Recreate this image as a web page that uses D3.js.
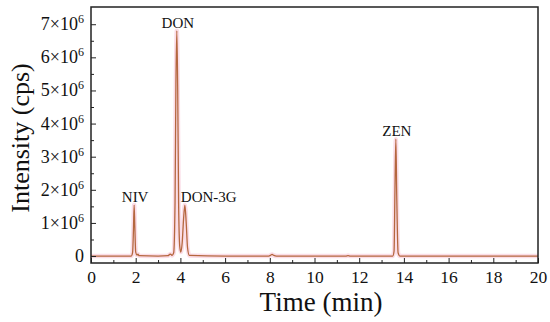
<!DOCTYPE html>
<html>
<head>
<meta charset="utf-8">
<script src="https://cdn.jsdelivr.net/npm/d3@7"></script>
<style>
  body { margin: 0; background: #fff; }
  text { font-family: "Liberation Serif", "DejaVu Serif", serif; fill: #111; }
</style>
</head>
<body>
<div id="chart"></div>
<script>
// chromatogram trace (time in min, intensity in cps)
var times = [0, 1.00, 1.80, 1.86, 1.90, 1.93, 1.96, 2.00, 2.06, 2.10, 2.15, 3.00, 3.45, 3.52, 3.56, 3.62,
  3.70, 3.76, 3.80, 3.84, 3.88, 3.92, 3.97, 4.02, 4.08, 4.14, 4.20, 4.26, 4.32, 4.40, 6.00, 7.95, 8.05,
  8.10, 8.18, 8.30, 11.40, 11.50, 11.60, 13.50, 13.56, 13.60, 13.64, 13.68, 13.74, 13.82, 17.00, 20];
var intensity = [0, 0, 0, 0.10e6, 0.80e6, 1.54e6, 0.90e6, 0.12e6, 0.03e6, 0.06e6, 0.01e6, 0, 0.01e6, 0.05e6, 0.06e6, 0.02e6,
  0.10e6, 1.60e6, 5.20e6, 6.80e6, 5.00e6, 1.60e6, 0.30e6, 0.12e6, 0.40e6, 1.10e6, 1.54e6, 1.00e6, 0.25e6, 0.02e6, 0, 0, 0.03e6,
  0.05e6, 0.02e6, 0, 0, 0.015e6, 0, 0, 0.15e6, 2.00e6, 3.53e6, 1.80e6, 0.10e6, 0, 0, 0];

var peakNames = ["NIV", "DON", "DON-3G", "ZEN"];
var peakTimes = [1.93, 3.84, 4.20, 13.64];
var peakHeights = [1.54e6, 6.80e6, 1.54e6, 3.53e6];

var xTicks = [0, 2, 4, 6, 8, 10, 12, 14, 16, 18, 20];
var yTicks = [0, 1, 2, 3, 4, 5, 6, 7];

var margin = { top: 7, right: 12, bottom: 59, left: 91 };
var width = 550 - margin.left - margin.right;
var height = 322 - margin.top - margin.bottom;

var data = times.map(function (t, i) { return { t: t, v: intensity[i] }; });

var svg = d3.select("#chart").append("svg")
  .attr("width", 550)
  .attr("height", 322);

var g = svg.append("g")
  .attr("transform", "translate(" + margin.left + "," + margin.top + ")");

var xScale = d3.scaleLinear().domain([0, 20]).range([0, width]);
var yScale = d3.scaleLinear().domain([-0.21e6, 7.52e6]).range([height, 0]);

var line = d3.line()
  .x(function (d) { return xScale(d.t); })
  .y(function (d) { return yScale(d.v); })
  .curve(d3.curveMonotoneX);

// soft pink halo then the trace
g.append("path")
  .datum(data)
  .attr("d", line)
  .attr("fill", "none")
  .attr("stroke", "#fbdde7")
  .attr("stroke-width", 4.5)
  .attr("stroke-linejoin", "round");

g.append("path")
  .datum(data)
  .attr("d", line)
  .attr("fill", "none")
  .attr("stroke", "#b5673f")
  .attr("stroke-width", 1.3)
  .attr("stroke-linejoin", "round");

// axes (ticks pointing inward)
var xAxis = d3.axisBottom(xScale).tickValues(xTicks).tickSize(-5).tickPadding(8);
var xMinor = d3.axisBottom(xScale).tickValues(d3.range(1, 20, 2)).tickSize(-3).tickFormat("");
var yAxis = d3.axisLeft(yScale).tickValues(yTicks.map(function (d) { return d * 1e6; }))
  .tickSize(-5).tickFormat("");
var yMinor = d3.axisLeft(yScale).tickValues(d3.range(0.5e6, 7.5e6, 1e6)).tickSize(-3).tickFormat("");

var gx = g.append("g").attr("class", "x axis")
  .attr("transform", "translate(0," + height + ")")
  .call(xAxis);
g.append("g").attr("transform", "translate(0," + height + ")").call(xMinor);
g.append("g").attr("class", "y axis").call(yAxis);
g.append("g").call(yMinor);

g.selectAll(".domain").remove();
g.selectAll(".tick line").attr("stroke", "#222").attr("stroke-width", 1);
gx.selectAll(".tick text")
  .attr("font-family", null)
  .style("font-size", "17.5px")
  .style("font-family", "Liberation Serif");

// y tick labels like 7×10^6
yTicks.forEach(function (d) {
  var t = g.append("text")
    .attr("x", -7)
    .attr("y", yScale(d * 1e6) + 6)
    .attr("text-anchor", "end")
    .style("font-size", "18px");
  if (d === 0) {
    t.text("0");
  } else {
    t.append("tspan").text(d + "\u00d710");
    t.append("tspan").attr("dy", -7).style("font-size", "12px").text("6");
  }
});

// frame
g.append("rect")
  .attr("width", width)
  .attr("height", height)
  .attr("fill", "none")
  .attr("stroke", "#222")
  .attr("stroke-width", 1.5);

// peak labels
peakNames.forEach(function (name, i) {
  var isStart = name === "DON-3G";
  g.append("text")
    .attr("x", xScale(peakTimes[i]) + (isStart ? -4 : 1))
    .attr("y", yScale(peakHeights[i]) - 3)
    .attr("text-anchor", isStart ? "start" : "middle")
    .style("font-size", "15px")
    .text(name);
});

// axis titles
svg.append("text")
  .attr("x", 321)
  .attr("y", 311)
  .attr("text-anchor", "middle")
  .style("font-size", "27px")
  .text("Time (min)");

svg.append("text")
  .attr("transform", "translate(29,138)rotate(-90)")
  .attr("text-anchor", "middle")
  .style("font-size", "26px")
  .text("Intensity (cps)");
</script>
</body>
</html>
